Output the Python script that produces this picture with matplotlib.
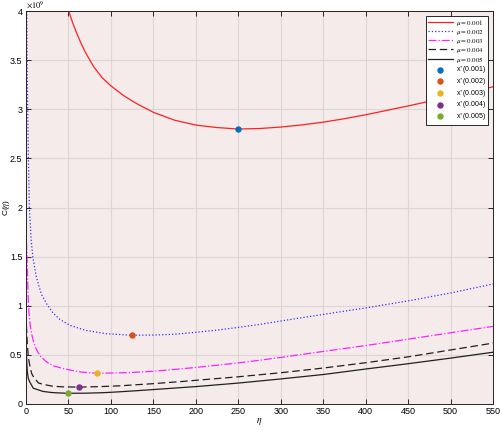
import matplotlib
matplotlib.use('Agg')
import matplotlib.pyplot as plt
import numpy as np

plt.rcParams['font.family'] = ['Liberation Sans', 'DejaVu Sans']
plt.rcParams['mathtext.fontset'] = 'stix'

# C(eta), in units of 1e9
mu_labels = ['0.001', '0.002', '0.003', '0.004', '0.005']

eta_1 = [50, 55, 60, 65, 70, 80, 90, 100, 115, 130, 150, 175, 200, 225, 250,
         275, 300, 325, 350, 375, 400, 450, 500, 550]
c_1 = [4.01, 3.88, 3.77, 3.67, 3.58, 3.43, 3.32, 3.24, 3.14, 3.06, 2.97, 2.89,
       2.84, 2.815, 2.80, 2.805, 2.82, 2.842, 2.87, 2.905, 2.945, 3.035, 3.13,
       3.23]

eta_2 = [0.8, 1.3, 2, 2.8, 4, 6, 8, 12, 18, 25, 32, 40, 52, 70, 95, 125, 150,
         175, 200, 225, 250, 275, 300, 350, 400, 450, 500, 550]
c_2 = [4.0, 3.5, 3.0, 2.5, 2.0, 1.68, 1.50, 1.30, 1.12, 1.01, 0.925, 0.86,
       0.80, 0.75, 0.715, 0.70, 0.702, 0.71, 0.73, 0.752, 0.78, 0.81, 0.845,
       0.912, 0.978, 1.05, 1.13, 1.222]

eta_3 = [0.5, 1.5, 2.5, 3.5, 5, 7, 9, 12, 16.5, 24, 32, 42, 52, 65, 83, 100,
         122, 150, 175, 200, 225, 250, 275, 300, 350, 400, 450, 500, 550]
c_3 = [1.65, 1.40, 1.10, 0.93, 0.80, 0.70, 0.63, 0.56, 0.49, 0.43, 0.39,
       0.365, 0.345, 0.325, 0.313, 0.315, 0.32, 0.333, 0.352, 0.372, 0.395,
       0.418, 0.445, 0.474, 0.535, 0.595, 0.66, 0.725, 0.79]

eta_4 = [0.5, 1.5, 2.7, 4.7, 6.7, 8.6, 14.5, 20, 32, 45, 62.5, 87, 111, 130,
         150, 185, 200, 250, 300, 350, 400, 450, 500, 550]
c_4 = [0.80, 0.62, 0.48, 0.38, 0.31, 0.28, 0.215, 0.20, 0.18, 0.174, 0.172,
       0.177, 0.185, 0.196, 0.207, 0.23, 0.241, 0.277, 0.318, 0.366, 0.42,
       0.48, 0.55, 0.62]

eta_5 = [0.5, 1.5, 2.7, 4.7, 8.6, 10.6, 20, 30, 40, 50, 70, 91, 110, 130, 150,
         185, 200, 250, 300, 350, 400, 450, 500, 550]
c_5 = [0.50, 0.33, 0.26, 0.22, 0.16, 0.155, 0.128, 0.117, 0.112, 0.109, 0.11,
       0.115, 0.124, 0.135, 0.147, 0.168, 0.177, 0.213, 0.255, 0.30, 0.356,
       0.41, 0.467, 0.527]

# minimisers x*(mu)
opt_eta = [250, 125, 83.3, 62.5, 50]
opt_c = [2.80, 0.70, 0.311, 0.175, 0.112]

curves = [(eta_1, c_1), (eta_2, c_2), (eta_3, c_3), (eta_4, c_4), (eta_5, c_5)]
line_styles = [('#ff2020', '-'), ('#3030ff', ':'), ('#ff20ff', '-.'),
               ('#202020', (0, (6, 3))), ('#202020', '-')]
marker_colors = ['#0072BD', '#D95319', '#EDB120', '#7E2F8E', '#77AC30']

fig = plt.figure(figsize=(5.0, 4.3), dpi=100)
ax = fig.add_axes([0.052, 0.0605, 0.934, 0.9135])
ax.set_facecolor('#f6ebeb')

for (eta, c), (col, ls), lab in zip(curves, line_styles, mu_labels):
    ax.plot(eta, c, color=col, linestyle=ls, linewidth=0.9,
            label=r'$\mu\mathrm{=' + lab + '}$')

for e, c, col, lab in zip(opt_eta, opt_c, marker_colors, mu_labels):
    ax.plot([e], [c], 'o', color=col, markersize=3.6, linestyle='none',
            label=r'x$^{*}$(' + lab + ')', zorder=5)

ax.set_xlim(0, 550)
ax.set_ylim(0, 4)
ax.set_xticks(np.arange(0, 551, 50))
ax.set_yticks(np.arange(0, 4.01, 0.5))
ax.yaxis.set_major_formatter(plt.FuncFormatter(lambda v, p: f'{v:g}'))
ax.grid(True, color='#dcd6d6', linewidth=0.8)
ax.set_axisbelow(True)
ax.tick_params(direction='in', length=3.5, width=0.7, labelsize=6.5, pad=2.5,
               top=True, right=True, colors='#262626', labelcolor='black')
for s in ax.spines.values():
    s.set_color('#262626')
    s.set_linewidth(0.7)

ax.text(0.0, 1.002, r'$\times 10^{9}$', transform=ax.transAxes, fontsize=6,
        va='bottom', ha='left')
ax.set_xlabel(r'$\eta$', fontsize=7, labelpad=0)
ax.set_ylabel(r'C($\eta$)', fontsize=6)
ax.yaxis.set_label_coords(-0.03, 0.5)

leg = ax.legend(loc='upper right', fontsize=5, handlelength=3.6,
                borderaxespad=0.7, labelspacing=0.0, framealpha=1,
                fancybox=False, edgecolor='#262626', borderpad=0.25,
                handletextpad=0.5)
leg.get_frame().set_linewidth(0.7)

fig.savefig('out.png', dpi=100)
